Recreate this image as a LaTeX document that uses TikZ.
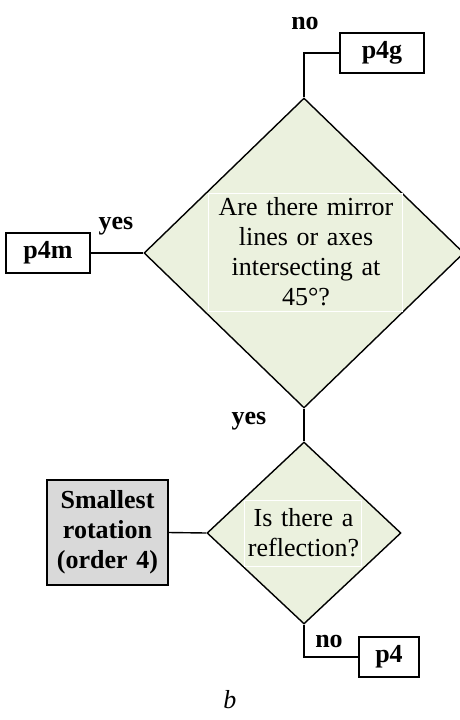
\documentclass[tikz,border=0pt]{standalone}
\usepackage{fontspec}
\setmainfont{Liberation Serif}
\usetikzlibrary{shapes.geometric}
\definecolor{paleolive}{RGB}{235,241,222}
\definecolor{boxgray}{RGB}{217,217,217}

\begin{document}
\begin{tikzpicture}[x=0.5pt, y=-0.5pt, line width=0.7pt,
    question/.style={diamond, draw, fill=paleolive, inner sep=0pt},
    qtext/.style={draw=white, line width=0.5pt, align=center, inner sep=0pt,
      font=\fontsize{13}{15}\selectfont},
    result/.style={rectangle, draw, inner sep=0pt, align=center,
      font=\fontsize{13}{15}\selectfont\bfseries},
    answer/.style={inner sep=0pt, font=\fontsize{13}{15}\selectfont\bfseries}]
  \useasboundingbox (0,0) rectangle (460,720);
  % decisions
  \node[question, minimum width=160pt, minimum height=155pt] (Q1) at (304,253) {};
  \node[qtext, text width=97pt, minimum height=59pt] (T1) at (306,252)
    {Are there mirror\\lines or axes\\intersecting at\\45°?};
  \node[question, minimum width=97pt, minimum height=91pt] (Q2) at (304,533) {};
  \node[qtext, text width=58.5pt, minimum height=33pt] (T2) at (303.5,533)
    {Is there a\\reflection?};
  % outcomes
  \node[result, minimum width=42pt, minimum height=20pt] (P4G) at (382,53) {p4g};
  \node[result, minimum width=42pt, minimum height=20pt] (P4M) at (48,253) {p4m};
  \node[result, fill=boxgray, text width=60.5pt, minimum height=52.5pt] (R) at (107.5,532.5)
    {Smallest\\rotation\\(order 4)};
  \node[result, minimum width=30pt, minimum height=20pt] (P4) at (389,657) {p4};
  % connectors
  \draw (Q1.north) |- (P4G.west);
  \draw (P4M.east) -- (Q1.west);
  \draw (Q1.south) -- (Q2.north);
  \draw (R.east) -- (Q2.west);
  \draw (Q2.south) |- (P4.west);
  % labels
  \node[answer] (L1) at (305,23) {no};
  \node[answer] (L2) at (116,226) {yes};
  \node[answer] (L3) at (249,421) {yes};
  \node[answer] (L4) at (329,641) {no};
  \node[inner sep=0pt, font=\fontsize{13}{15}\selectfont\itshape] (cap) at (230,700) {b};
\end{tikzpicture}
\end{document}
